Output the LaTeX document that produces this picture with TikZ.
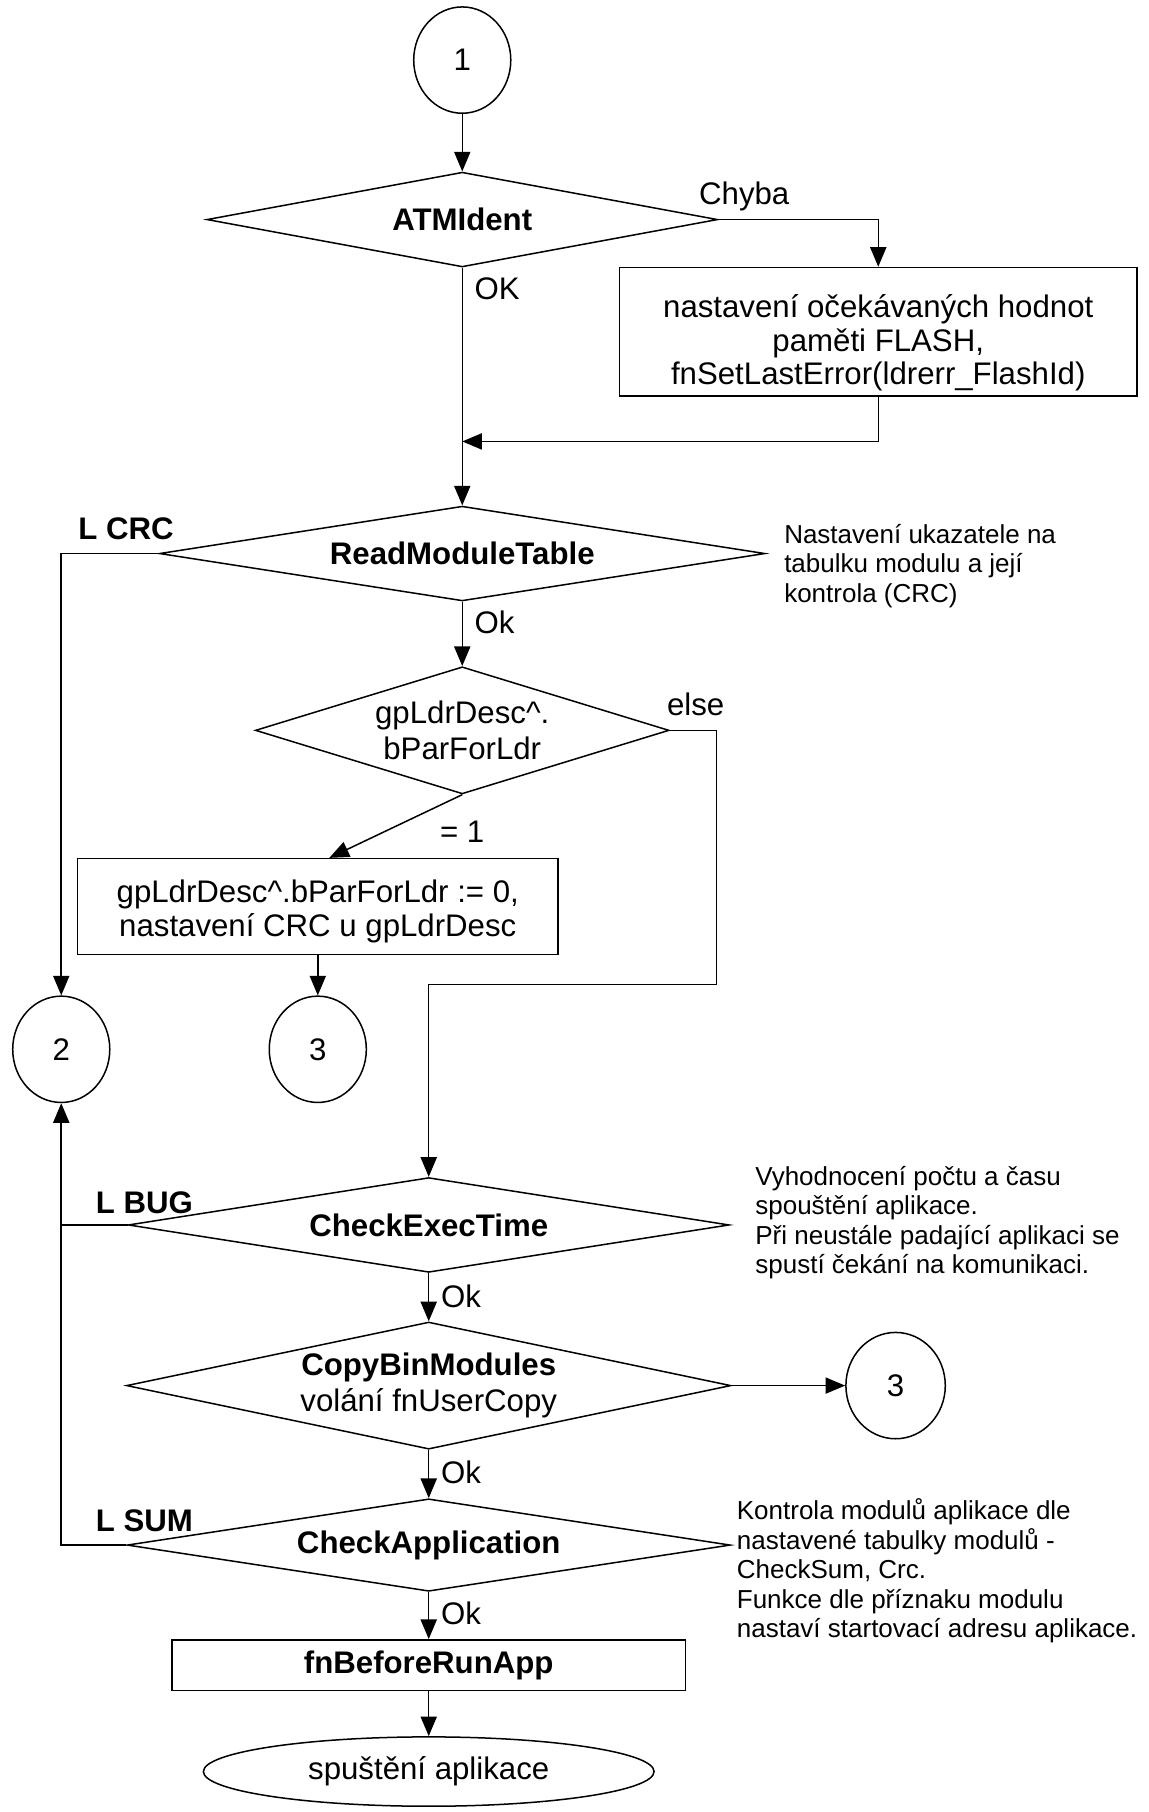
\documentclass[tikz,border=0pt]{standalone}
\usepackage{fontspec}
\setmainfont{Liberation Sans}
\usetikzlibrary{shapes.geometric,arrows.meta,calc}
\begin{document}
\begin{tikzpicture}[x=1pt,y=-1pt,line width=1.3pt,
  txt/.style={font=\fontsize{27}{31.5}\selectfont},
  btxt/.style={font=\fontsize{27}{31.5}\selectfont\bfseries},
  boxtxt/.style={font=\fontsize{27}{29}\selectfont,align=center,anchor=base,inner sep=0pt},
  dia/.style={draw,diamond,inner sep=0pt,txt},
  conn/.style={draw,ellipse,minimum width=84pt,minimum height=92pt,inner sep=0pt,txt},
  proc/.style={draw,rectangle,inner sep=0pt,txt},
  arr/.style={-{Triangle[length=17pt,width=14pt]}},
  lbl/.style={txt,inner sep=0pt},
  blbl/.style={btxt,inner sep=0pt},
  note/.style={font=\fontsize{22.5}{25.5}\selectfont,align=left,anchor=base west,inner sep=0pt}]
\fill[white] (0,0) rectangle (994,1568);
\useasboundingbox (0,0) rectangle (994,1568);

% nodes
\node[conn] (c1) at (400,52) {1};
\node[dia,btxt,aspect=5.39,minimum width=442pt,minimum height=82pt] (atm) at (400,190) {ATMIdent};
\node[proc,minimum width=448pt,minimum height=111pt] (box1) at (760,287) {};
\node[boxtxt] (box1t) at (760,333) {nastavení očekávaných hodnot\\paměti FLASH,\\fnSetLastError(ldrerr\_FlashId)};
\node[dia,btxt,aspect=6.39,minimum width=524pt,minimum height=82pt] (rmt) at (400,479) {ReadModuleTable};
\node[dia,aspect=3.25,minimum width=358pt,minimum height=110pt,align=center] (gp) at (400,632)
  {gpLdrDesc\textasciicircum.\\bParForLdr};
\node[proc,minimum width=416pt,minimum height=83pt] (box2) at (275,784.5) {};
\node[boxtxt] (box2t) at (275,810) {gpLdrDesc\textasciicircum.bParForLdr := 0,\\nastavení CRC u gpLdrDesc};
\node[conn] (c2) at (53,908) {2};
\node[conn] (c3a) at (275,908) {3};
\node[dia,btxt,aspect=6.34,minimum width=520pt,minimum height=82pt] (cet) at (371,1060) {CheckExecTime};
\node[dia,aspect=4.75,minimum width=523pt,minimum height=110pt,align=center] (cbm) at (371,1199)
  {\bfseries CopyBinModules\\volání fnUserCopy};
\node[conn,minimum width=86pt] (c3b) at (775,1199) {3};
\node[dia,btxt,aspect=6.5,minimum width=522pt,minimum height=80pt] (capp) at (371,1337) {CheckApplication};
\node[proc,btxt,minimum width=444pt,minimum height=44pt] (fnb) at (371,1441) {fnBeforeRunApp};
\node[draw,ellipse,txt,minimum width=390pt,minimum height=60pt,inner sep=0pt] (endE) at (371,1533) {spuštění aplikace};

% labels
\node[lbl,anchor=base west] (lok1) at (410,259) {OK};
\node[lbl,anchor=base] (lchy) at (644,177) {Chyba};
\node[blbl,anchor=base] (lcrc) at (109,467) {L CRC};
\node[lbl,anchor=base west] (lok2) at (410,548) {Ok};
\node[lbl,anchor=base] (lelse) at (602,619) {else};
\node[lbl,anchor=base] (leq) at (400,729) {= 1};
\node[blbl,anchor=base] (lbug) at (125,1050) {L BUG};
\node[lbl,anchor=base west] (lok3) at (381,1131) {Ok};
\node[lbl,anchor=base west] (lok4) at (381,1284) {Ok};
\node[blbl,anchor=base] (lsum) at (125,1325) {L SUM};
\node[lbl,anchor=base west] (lok5) at (381,1406) {Ok};

% notes (anchor = baseline of last line)
\node[note] (n1) at (678,521) {Nastavení ukazatele na\\tabulku modulu a její\\kontrola (CRC)};
\node[note] (n2) at (653,1102) {Vyhodnocení počtu a času\\spouštění aplikace.\\Při neustále padající aplikaci se\\spustí čekání na komunikaci.};
\node[note] (n3) at (637,1417) {Kontrola modulů aplikace dle\\nastavené tabulky modulů -\\CheckSum, Crc.\\Funkce dle příznaku modulu\\nastaví startovací adresu aplikace.};

% connectors
\coordinate (j1) at (400,382);
\coordinate (e1) at (620,852);
\draw[arr] (c1.south) -- (atm.north);
\draw[arr] (atm.east) -| (box1.north);
\draw[arr] (box1.south) |- (j1);
\draw[arr] (atm.south) -- (rmt.north);
\draw[arr] (rmt.west) -| (c2.north);
\draw[arr] (rmt.south) -- (gp.north);
\draw[arr] (gp.south) -- ([xshift=10pt]box2.north);
\draw[arr] (box2.south) -- (c3a.north);
\draw[arr] (gp.east) -| (e1) -| (cet.north);
\draw (cet.west) -- (cet.west -| c2.south);
\draw[arr] (capp.west) -| (c2.south);
\draw[arr] (cet.south) -- (cbm.north);
\draw[arr] (cbm.east) -- (c3b.west);
\draw[arr] (cbm.south) -- (capp.north);
\draw[arr] (capp.south) -- (fnb.north);
\draw[arr] (fnb.south) -- (endE.north);
\end{tikzpicture}
\end{document}
